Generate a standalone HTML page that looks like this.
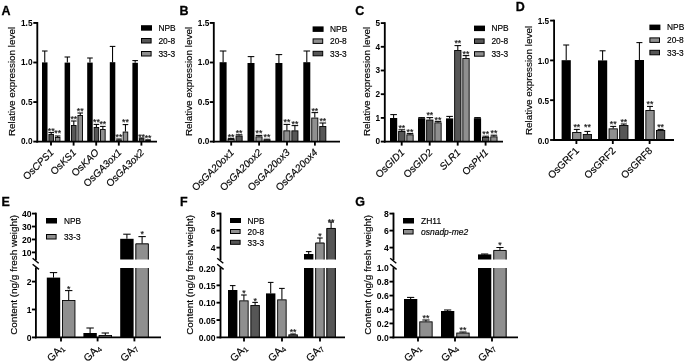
<!DOCTYPE html>
<html><head><meta charset="utf-8"><title>Figure</title>
<style>html,body{margin:0;padding:0;background:#fff}svg{display:block;filter:blur(0.35px)}text{font-family:"Liberation Sans",Arial,sans-serif}text.n{stroke:#000;stroke-width:0.16px}</style></head><body>
<svg width="685" height="362" viewBox="0 0 685 362">
<rect width="685" height="362" fill="#fff"/>
<text transform="translate(1.60 15.00) scale(0.97 1.0)" font-size="12.9" text-anchor="start" font-weight="bold" font-style="normal" fill="#000" stroke="#000" stroke-width="0.3">A</text>
<text class="n" transform="translate(15.30 81.50) rotate(-90)" font-size="9.9" text-anchor="middle" font-weight="normal" font-style="normal" fill="#000">Relative expression level</text>
<line x1="37.30" y1="22.03" x2="37.30" y2="142.52" stroke="#000" stroke-width="1.85"/>
<line x1="33.30" y1="141.60" x2="37.30" y2="141.60" stroke="#000" stroke-width="1.85"/>
<text transform="translate(32.50 144.30) scale(0.96 1.06)" font-size="8.6" text-anchor="end" font-weight="bold" font-style="normal" fill="#000">0.0</text>
<line x1="33.30" y1="102.05" x2="37.30" y2="102.05" stroke="#000" stroke-width="1.85"/>
<text transform="translate(32.50 104.75) scale(0.96 1.06)" font-size="8.6" text-anchor="end" font-weight="bold" font-style="normal" fill="#000">0.5</text>
<line x1="33.30" y1="62.50" x2="37.30" y2="62.50" stroke="#000" stroke-width="1.85"/>
<text transform="translate(32.50 65.20) scale(0.96 1.06)" font-size="8.6" text-anchor="end" font-weight="bold" font-style="normal" fill="#000">1.0</text>
<line x1="33.30" y1="22.95" x2="37.30" y2="22.95" stroke="#000" stroke-width="1.85"/>
<text transform="translate(32.50 25.65) scale(0.96 1.06)" font-size="8.6" text-anchor="end" font-weight="bold" font-style="normal" fill="#000">1.5</text>
<rect x="42.00" y="62.40" width="5.50" height="79.20" fill="#000"/>
<line x1="44.75" y1="51.00" x2="44.75" y2="62.40" stroke="#000" stroke-width="1.05"/>
<line x1="41.95" y1="51.00" x2="47.55" y2="51.00" stroke="#000" stroke-width="1.05"/>
<rect x="48.90" y="134.45" width="4.60" height="7.15" fill="#565656" stroke="#000" stroke-width="0.9"/>
<line x1="51.20" y1="132.60" x2="51.20" y2="134.00" stroke="#000" stroke-width="1.05"/>
<line x1="48.40" y1="132.60" x2="54.00" y2="132.60" stroke="#000" stroke-width="1.05"/>
<text class="n" x="51.20" y="134.46" font-size="8.7" text-anchor="middle" font-weight="normal" font-style="normal" fill="#222">**</text>
<rect x="55.35" y="137.45" width="4.60" height="4.15" fill="#8f8f8f" stroke="#000" stroke-width="0.9"/>
<line x1="57.65" y1="136.00" x2="57.65" y2="137.00" stroke="#000" stroke-width="1.05"/>
<line x1="54.85" y1="136.00" x2="60.45" y2="136.00" stroke="#000" stroke-width="1.05"/>
<text class="n" x="57.65" y="136.31" font-size="8.7" text-anchor="middle" font-weight="normal" font-style="normal" fill="#222">**</text>
<rect x="64.60" y="62.60" width="5.50" height="79.00" fill="#000"/>
<line x1="67.35" y1="57.00" x2="67.35" y2="62.60" stroke="#000" stroke-width="1.05"/>
<line x1="64.55" y1="57.00" x2="70.15" y2="57.00" stroke="#000" stroke-width="1.05"/>
<rect x="71.50" y="125.45" width="4.60" height="16.15" fill="#565656" stroke="#000" stroke-width="0.9"/>
<line x1="73.80" y1="121.00" x2="73.80" y2="125.00" stroke="#000" stroke-width="1.05"/>
<line x1="71.00" y1="121.00" x2="76.60" y2="121.00" stroke="#000" stroke-width="1.05"/>
<text class="n" x="73.80" y="122.46" font-size="8.7" text-anchor="middle" font-weight="normal" font-style="normal" fill="#222">**</text>
<rect x="77.95" y="115.45" width="4.60" height="26.15" fill="#8f8f8f" stroke="#000" stroke-width="0.9"/>
<line x1="80.25" y1="113.00" x2="80.25" y2="115.00" stroke="#000" stroke-width="1.05"/>
<line x1="77.45" y1="113.00" x2="83.05" y2="113.00" stroke="#000" stroke-width="1.05"/>
<text class="n" x="80.25" y="114.06" font-size="8.7" text-anchor="middle" font-weight="normal" font-style="normal" fill="#222">**</text>
<rect x="87.20" y="62.60" width="5.50" height="79.00" fill="#000"/>
<line x1="89.95" y1="58.00" x2="89.95" y2="62.60" stroke="#000" stroke-width="1.05"/>
<line x1="87.15" y1="58.00" x2="92.75" y2="58.00" stroke="#000" stroke-width="1.05"/>
<rect x="94.10" y="127.45" width="4.60" height="14.15" fill="#565656" stroke="#000" stroke-width="0.9"/>
<line x1="96.40" y1="124.40" x2="96.40" y2="127.00" stroke="#000" stroke-width="1.05"/>
<line x1="93.60" y1="124.40" x2="99.20" y2="124.40" stroke="#000" stroke-width="1.05"/>
<text class="n" x="96.40" y="125.46" font-size="8.7" text-anchor="middle" font-weight="normal" font-style="normal" fill="#222">**</text>
<rect x="100.55" y="129.45" width="4.60" height="12.15" fill="#8f8f8f" stroke="#000" stroke-width="0.9"/>
<line x1="102.85" y1="126.40" x2="102.85" y2="129.00" stroke="#000" stroke-width="1.05"/>
<line x1="100.05" y1="126.40" x2="105.65" y2="126.40" stroke="#000" stroke-width="1.05"/>
<text class="n" x="102.85" y="127.06" font-size="8.7" text-anchor="middle" font-weight="normal" font-style="normal" fill="#222">**</text>
<rect x="109.80" y="62.20" width="5.50" height="79.40" fill="#000"/>
<line x1="112.55" y1="46.40" x2="112.55" y2="62.20" stroke="#000" stroke-width="1.05"/>
<line x1="109.75" y1="46.40" x2="115.35" y2="46.40" stroke="#000" stroke-width="1.05"/>
<rect x="116.70" y="140.05" width="4.60" height="1.55" fill="#565656" stroke="#000" stroke-width="0.9"/>
<line x1="119.00" y1="139.00" x2="119.00" y2="139.60" stroke="#000" stroke-width="1.05"/>
<line x1="116.20" y1="139.00" x2="121.80" y2="139.00" stroke="#000" stroke-width="1.05"/>
<text class="n" x="119.00" y="140.46" font-size="8.7" text-anchor="middle" font-weight="normal" font-style="normal" fill="#222">**</text>
<rect x="123.15" y="132.05" width="4.60" height="9.55" fill="#8f8f8f" stroke="#000" stroke-width="0.9"/>
<line x1="125.45" y1="124.60" x2="125.45" y2="131.60" stroke="#000" stroke-width="1.05"/>
<line x1="122.65" y1="124.60" x2="128.25" y2="124.60" stroke="#000" stroke-width="1.05"/>
<text class="n" x="125.45" y="125.46" font-size="8.7" text-anchor="middle" font-weight="normal" font-style="normal" fill="#222">**</text>
<rect x="132.40" y="62.80" width="5.50" height="78.80" fill="#000"/>
<line x1="135.15" y1="60.60" x2="135.15" y2="62.80" stroke="#000" stroke-width="1.05"/>
<line x1="132.35" y1="60.60" x2="137.95" y2="60.60" stroke="#000" stroke-width="1.05"/>
<rect x="139.30" y="138.85" width="4.60" height="2.75" fill="#565656" stroke="#000" stroke-width="0.9"/>
<line x1="141.60" y1="138.00" x2="141.60" y2="138.40" stroke="#000" stroke-width="1.05"/>
<line x1="138.80" y1="138.00" x2="144.40" y2="138.00" stroke="#000" stroke-width="1.05"/>
<text class="n" x="141.60" y="139.66" font-size="8.7" text-anchor="middle" font-weight="normal" font-style="normal" fill="#222">**</text>
<rect x="145.75" y="140.45" width="4.60" height="1.15" fill="#8f8f8f" stroke="#000" stroke-width="0.9"/>
<line x1="145.25" y1="139.80" x2="150.85" y2="139.80" stroke="#000" stroke-width="1.05"/>
<text class="n" x="148.05" y="140.86" font-size="8.7" text-anchor="middle" font-weight="normal" font-style="normal" fill="#222">**</text>
<line x1="36.38" y1="141.60" x2="157.00" y2="141.60" stroke="#000" stroke-width="1.85"/>
<line x1="51.00" y1="141.60" x2="51.00" y2="145.60" stroke="#000" stroke-width="1.85"/>
<line x1="73.60" y1="141.60" x2="73.60" y2="145.60" stroke="#000" stroke-width="1.85"/>
<line x1="96.20" y1="141.60" x2="96.20" y2="145.60" stroke="#000" stroke-width="1.85"/>
<line x1="118.80" y1="141.60" x2="118.80" y2="145.60" stroke="#000" stroke-width="1.85"/>
<line x1="141.40" y1="141.60" x2="141.40" y2="145.60" stroke="#000" stroke-width="1.85"/>
<text class="n" transform="translate(54.40 153.00) rotate(-45)" font-size="10.0" text-anchor="end" font-weight="normal" font-style="normal" fill="#000"><tspan font-style="normal">Os</tspan><tspan font-style="italic">CPS1</tspan></text>
<text class="n" transform="translate(77.00 153.00) rotate(-45)" font-size="10.0" text-anchor="end" font-weight="normal" font-style="normal" fill="#000"><tspan font-style="normal">Os</tspan><tspan font-style="italic">KS1</tspan></text>
<text class="n" transform="translate(99.60 153.00) rotate(-45)" font-size="10.0" text-anchor="end" font-weight="normal" font-style="normal" fill="#000"><tspan font-style="normal">Os</tspan><tspan font-style="italic">KAO</tspan></text>
<text class="n" transform="translate(122.20 153.00) rotate(-45)" font-size="10.0" text-anchor="end" font-weight="normal" font-style="normal" fill="#000"><tspan font-style="normal">Os</tspan><tspan font-style="italic">GA3ox1</tspan></text>
<text class="n" transform="translate(144.80 153.00) rotate(-45)" font-size="10.0" text-anchor="end" font-weight="normal" font-style="normal" fill="#000"><tspan font-style="normal">Os</tspan><tspan font-style="italic">GA3ox2</tspan></text>
<rect x="141.00" y="25.20" width="11.00" height="5.50" fill="#000"/>
<text class="n" x="158.40" y="30.95" font-size="8.4" text-anchor="start" font-weight="normal" font-style="normal" fill="#000">NPB</text>
<rect x="141.50" y="38.50" width="9.60" height="4.50" fill="#565656" stroke="#000" stroke-width="1.0"/>
<text class="n" x="158.40" y="43.95" font-size="8.4" text-anchor="start" font-weight="normal" font-style="normal" fill="#000">20-8</text>
<rect x="141.50" y="51.50" width="9.60" height="4.50" fill="#8f8f8f" stroke="#000" stroke-width="1.0"/>
<text class="n" x="158.40" y="56.95" font-size="8.4" text-anchor="start" font-weight="normal" font-style="normal" fill="#000">33-3</text>
<text transform="translate(179.40 15.00) scale(0.97 1.0)" font-size="12.9" text-anchor="start" font-weight="bold" font-style="normal" fill="#000" stroke="#000" stroke-width="0.3">B</text>
<text class="n" transform="translate(191.50 81.50) rotate(-90)" font-size="9.9" text-anchor="middle" font-weight="normal" font-style="normal" fill="#000">Relative expression level</text>
<line x1="213.80" y1="22.03" x2="213.80" y2="142.52" stroke="#000" stroke-width="1.85"/>
<line x1="209.80" y1="141.60" x2="213.80" y2="141.60" stroke="#000" stroke-width="1.85"/>
<text transform="translate(209.30 144.30) scale(0.96 1.06)" font-size="8.6" text-anchor="end" font-weight="bold" font-style="normal" fill="#000">0.0</text>
<line x1="209.80" y1="102.05" x2="213.80" y2="102.05" stroke="#000" stroke-width="1.85"/>
<text transform="translate(209.30 104.75) scale(0.96 1.06)" font-size="8.6" text-anchor="end" font-weight="bold" font-style="normal" fill="#000">0.5</text>
<line x1="209.80" y1="62.50" x2="213.80" y2="62.50" stroke="#000" stroke-width="1.85"/>
<text transform="translate(209.30 65.20) scale(0.96 1.06)" font-size="8.6" text-anchor="end" font-weight="bold" font-style="normal" fill="#000">1.0</text>
<line x1="209.80" y1="22.95" x2="213.80" y2="22.95" stroke="#000" stroke-width="1.85"/>
<text transform="translate(209.30 25.65) scale(0.96 1.06)" font-size="8.6" text-anchor="end" font-weight="bold" font-style="normal" fill="#000">1.5</text>
<rect x="219.60" y="62.20" width="7.00" height="79.40" fill="#000"/>
<line x1="223.10" y1="51.00" x2="223.10" y2="62.20" stroke="#000" stroke-width="1.05"/>
<line x1="219.80" y1="51.00" x2="226.40" y2="51.00" stroke="#000" stroke-width="1.05"/>
<rect x="228.05" y="139.45" width="6.10" height="2.15" fill="#8f8f8f" stroke="#000" stroke-width="0.9"/>
<line x1="231.10" y1="138.40" x2="231.10" y2="139.00" stroke="#000" stroke-width="1.05"/>
<line x1="227.80" y1="138.40" x2="234.40" y2="138.40" stroke="#000" stroke-width="1.05"/>
<text class="n" x="231.10" y="140.06" font-size="8.7" text-anchor="middle" font-weight="normal" font-style="normal" fill="#222">**</text>
<rect x="236.05" y="136.05" width="6.10" height="5.55" fill="#565656" stroke="#000" stroke-width="0.9"/>
<line x1="239.10" y1="134.80" x2="239.10" y2="135.60" stroke="#000" stroke-width="1.05"/>
<line x1="235.80" y1="134.80" x2="242.40" y2="134.80" stroke="#000" stroke-width="1.05"/>
<text class="n" x="239.10" y="136.31" font-size="8.7" text-anchor="middle" font-weight="normal" font-style="normal" fill="#222">**</text>
<rect x="247.50" y="63.00" width="7.00" height="78.60" fill="#000"/>
<line x1="251.00" y1="56.60" x2="251.00" y2="63.00" stroke="#000" stroke-width="1.05"/>
<line x1="247.70" y1="56.60" x2="254.30" y2="56.60" stroke="#000" stroke-width="1.05"/>
<rect x="255.95" y="136.85" width="6.10" height="4.75" fill="#8f8f8f" stroke="#000" stroke-width="0.9"/>
<line x1="259.00" y1="135.40" x2="259.00" y2="136.40" stroke="#000" stroke-width="1.05"/>
<line x1="255.70" y1="135.40" x2="262.30" y2="135.40" stroke="#000" stroke-width="1.05"/>
<text class="n" x="259.00" y="136.46" font-size="8.7" text-anchor="middle" font-weight="normal" font-style="normal" fill="#222">**</text>
<rect x="263.95" y="140.05" width="6.10" height="1.55" fill="#565656" stroke="#000" stroke-width="0.9"/>
<line x1="267.00" y1="139.20" x2="267.00" y2="139.60" stroke="#000" stroke-width="1.05"/>
<line x1="263.70" y1="139.20" x2="270.30" y2="139.20" stroke="#000" stroke-width="1.05"/>
<text class="n" x="267.00" y="140.46" font-size="8.7" text-anchor="middle" font-weight="normal" font-style="normal" fill="#222">**</text>
<rect x="275.40" y="63.00" width="7.00" height="78.60" fill="#000"/>
<line x1="278.90" y1="54.60" x2="278.90" y2="63.00" stroke="#000" stroke-width="1.05"/>
<line x1="275.60" y1="54.60" x2="282.20" y2="54.60" stroke="#000" stroke-width="1.05"/>
<rect x="283.85" y="130.85" width="6.10" height="10.75" fill="#8f8f8f" stroke="#000" stroke-width="0.9"/>
<line x1="286.90" y1="124.40" x2="286.90" y2="130.40" stroke="#000" stroke-width="1.05"/>
<line x1="283.60" y1="124.40" x2="290.20" y2="124.40" stroke="#000" stroke-width="1.05"/>
<text class="n" x="286.90" y="125.46" font-size="8.7" text-anchor="middle" font-weight="normal" font-style="normal" fill="#222">**</text>
<rect x="291.85" y="130.85" width="6.10" height="10.75" fill="#565656" stroke="#000" stroke-width="0.9"/>
<line x1="294.90" y1="125.60" x2="294.90" y2="130.40" stroke="#000" stroke-width="1.05"/>
<line x1="291.60" y1="125.60" x2="298.20" y2="125.60" stroke="#000" stroke-width="1.05"/>
<text class="n" x="294.90" y="126.86" font-size="8.7" text-anchor="middle" font-weight="normal" font-style="normal" fill="#222">**</text>
<rect x="303.30" y="62.20" width="7.00" height="79.40" fill="#000"/>
<line x1="306.80" y1="51.00" x2="306.80" y2="62.20" stroke="#000" stroke-width="1.05"/>
<line x1="303.50" y1="51.00" x2="310.10" y2="51.00" stroke="#000" stroke-width="1.05"/>
<rect x="311.75" y="118.05" width="6.10" height="23.55" fill="#8f8f8f" stroke="#000" stroke-width="0.9"/>
<line x1="314.80" y1="112.60" x2="314.80" y2="117.60" stroke="#000" stroke-width="1.05"/>
<line x1="311.50" y1="112.60" x2="318.10" y2="112.60" stroke="#000" stroke-width="1.05"/>
<text class="n" x="314.80" y="113.86" font-size="8.7" text-anchor="middle" font-weight="normal" font-style="normal" fill="#222">**</text>
<rect x="319.75" y="126.45" width="6.10" height="15.15" fill="#565656" stroke="#000" stroke-width="0.9"/>
<line x1="322.80" y1="123.00" x2="322.80" y2="126.00" stroke="#000" stroke-width="1.05"/>
<line x1="319.50" y1="123.00" x2="326.10" y2="123.00" stroke="#000" stroke-width="1.05"/>
<text class="n" x="322.80" y="124.46" font-size="8.7" text-anchor="middle" font-weight="normal" font-style="normal" fill="#222">**</text>
<line x1="212.88" y1="141.60" x2="340.00" y2="141.60" stroke="#000" stroke-width="1.85"/>
<line x1="231.20" y1="141.60" x2="231.20" y2="145.60" stroke="#000" stroke-width="1.85"/>
<line x1="259.10" y1="141.60" x2="259.10" y2="145.60" stroke="#000" stroke-width="1.85"/>
<line x1="287.00" y1="141.60" x2="287.00" y2="145.60" stroke="#000" stroke-width="1.85"/>
<line x1="314.90" y1="141.60" x2="314.90" y2="145.60" stroke="#000" stroke-width="1.85"/>
<text class="n" transform="translate(234.60 153.00) rotate(-45)" font-size="10.0" text-anchor="end" font-weight="normal" font-style="normal" fill="#000"><tspan font-style="normal">Os</tspan><tspan font-style="italic">GA20ox1</tspan></text>
<text class="n" transform="translate(262.50 153.00) rotate(-45)" font-size="10.0" text-anchor="end" font-weight="normal" font-style="normal" fill="#000"><tspan font-style="normal">Os</tspan><tspan font-style="italic">GA20ox2</tspan></text>
<text class="n" transform="translate(290.40 153.00) rotate(-45)" font-size="10.0" text-anchor="end" font-weight="normal" font-style="normal" fill="#000"><tspan font-style="normal">Os</tspan><tspan font-style="italic">GA20ox3</tspan></text>
<text class="n" transform="translate(318.30 153.00) rotate(-45)" font-size="10.0" text-anchor="end" font-weight="normal" font-style="normal" fill="#000"><tspan font-style="normal">Os</tspan><tspan font-style="italic">GA20ox4</tspan></text>
<rect x="312.60" y="26.40" width="11.00" height="5.50" fill="#000"/>
<text class="n" x="330.00" y="32.15" font-size="8.4" text-anchor="start" font-weight="normal" font-style="normal" fill="#000">NPB</text>
<rect x="313.10" y="38.90" width="9.60" height="4.50" fill="#8f8f8f" stroke="#000" stroke-width="1.0"/>
<text class="n" x="330.00" y="44.35" font-size="8.4" text-anchor="start" font-weight="normal" font-style="normal" fill="#000">20-8</text>
<rect x="313.10" y="51.30" width="9.60" height="4.50" fill="#565656" stroke="#000" stroke-width="1.0"/>
<text class="n" x="330.00" y="56.75" font-size="8.4" text-anchor="start" font-weight="normal" font-style="normal" fill="#000">33-3</text>
<text transform="translate(355.30 15.10) scale(0.97 1.0)" font-size="12.9" text-anchor="start" font-weight="bold" font-style="normal" fill="#000" stroke="#000" stroke-width="0.3">C</text>
<text class="n" transform="translate(369.70 81.50) rotate(-90)" font-size="9.9" text-anchor="middle" font-weight="normal" font-style="normal" fill="#000">Relative expression level</text>
<line x1="384.80" y1="22.18" x2="384.80" y2="142.52" stroke="#000" stroke-width="1.85"/>
<line x1="380.80" y1="141.60" x2="384.80" y2="141.60" stroke="#000" stroke-width="1.85"/>
<text transform="translate(380.20 144.30) scale(0.96 1.06)" font-size="8.6" text-anchor="end" font-weight="bold" font-style="normal" fill="#000">0</text>
<line x1="380.80" y1="117.90" x2="384.80" y2="117.90" stroke="#000" stroke-width="1.85"/>
<text transform="translate(380.20 120.60) scale(0.96 1.06)" font-size="8.6" text-anchor="end" font-weight="bold" font-style="normal" fill="#000">1</text>
<line x1="380.80" y1="94.20" x2="384.80" y2="94.20" stroke="#000" stroke-width="1.85"/>
<text transform="translate(380.20 96.90) scale(0.96 1.06)" font-size="8.6" text-anchor="end" font-weight="bold" font-style="normal" fill="#000">2</text>
<line x1="380.80" y1="70.50" x2="384.80" y2="70.50" stroke="#000" stroke-width="1.85"/>
<text transform="translate(380.20 73.20) scale(0.96 1.06)" font-size="8.6" text-anchor="end" font-weight="bold" font-style="normal" fill="#000">3</text>
<line x1="380.80" y1="46.80" x2="384.80" y2="46.80" stroke="#000" stroke-width="1.85"/>
<text transform="translate(380.20 49.50) scale(0.96 1.06)" font-size="8.6" text-anchor="end" font-weight="bold" font-style="normal" fill="#000">4</text>
<line x1="380.80" y1="23.10" x2="384.80" y2="23.10" stroke="#000" stroke-width="1.85"/>
<text transform="translate(380.20 25.80) scale(0.96 1.06)" font-size="8.6" text-anchor="end" font-weight="bold" font-style="normal" fill="#000">5</text>
<rect x="390.00" y="118.00" width="7.20" height="23.60" fill="#000"/>
<line x1="393.60" y1="114.60" x2="393.60" y2="118.00" stroke="#000" stroke-width="1.05"/>
<line x1="390.30" y1="114.60" x2="396.90" y2="114.60" stroke="#000" stroke-width="1.05"/>
<rect x="398.65" y="131.45" width="6.30" height="10.15" fill="#565656" stroke="#000" stroke-width="0.9"/>
<line x1="401.80" y1="129.80" x2="401.80" y2="131.00" stroke="#000" stroke-width="1.05"/>
<line x1="398.50" y1="129.80" x2="405.10" y2="129.80" stroke="#000" stroke-width="1.05"/>
<text class="n" x="401.80" y="130.86" font-size="8.7" text-anchor="middle" font-weight="normal" font-style="normal" fill="#222">**</text>
<rect x="406.85" y="134.85" width="6.30" height="6.75" fill="#8f8f8f" stroke="#000" stroke-width="0.9"/>
<line x1="410.00" y1="133.60" x2="410.00" y2="134.40" stroke="#000" stroke-width="1.05"/>
<line x1="406.70" y1="133.60" x2="413.30" y2="133.60" stroke="#000" stroke-width="1.05"/>
<text class="n" x="410.00" y="134.86" font-size="8.7" text-anchor="middle" font-weight="normal" font-style="normal" fill="#222">**</text>
<rect x="418.00" y="118.20" width="7.20" height="23.40" fill="#000"/>
<line x1="421.60" y1="117.60" x2="421.60" y2="118.20" stroke="#000" stroke-width="1.05"/>
<line x1="418.30" y1="117.60" x2="424.90" y2="117.60" stroke="#000" stroke-width="1.05"/>
<rect x="426.65" y="120.05" width="6.30" height="21.55" fill="#565656" stroke="#000" stroke-width="0.9"/>
<line x1="429.80" y1="117.60" x2="429.80" y2="119.60" stroke="#000" stroke-width="1.05"/>
<line x1="426.50" y1="117.60" x2="433.10" y2="117.60" stroke="#000" stroke-width="1.05"/>
<text class="n" x="429.80" y="118.46" font-size="8.7" text-anchor="middle" font-weight="normal" font-style="normal" fill="#222">**</text>
<rect x="434.85" y="122.85" width="6.30" height="18.75" fill="#8f8f8f" stroke="#000" stroke-width="0.9"/>
<line x1="438.00" y1="121.40" x2="438.00" y2="122.40" stroke="#000" stroke-width="1.05"/>
<line x1="434.70" y1="121.40" x2="441.30" y2="121.40" stroke="#000" stroke-width="1.05"/>
<text class="n" x="438.00" y="122.86" font-size="8.7" text-anchor="middle" font-weight="normal" font-style="normal" fill="#222">**</text>
<rect x="446.00" y="118.40" width="7.20" height="23.20" fill="#000"/>
<line x1="449.60" y1="116.40" x2="449.60" y2="118.40" stroke="#000" stroke-width="1.05"/>
<line x1="446.30" y1="116.40" x2="452.90" y2="116.40" stroke="#000" stroke-width="1.05"/>
<rect x="454.65" y="50.45" width="6.30" height="91.15" fill="#565656" stroke="#000" stroke-width="0.9"/>
<line x1="457.80" y1="45.60" x2="457.80" y2="50.00" stroke="#000" stroke-width="1.05"/>
<line x1="454.50" y1="45.60" x2="461.10" y2="45.60" stroke="#000" stroke-width="1.05"/>
<text class="n" x="457.80" y="46.46" font-size="8.7" text-anchor="middle" font-weight="normal" font-style="normal" fill="#222">**</text>
<rect x="462.85" y="58.45" width="6.30" height="83.15" fill="#8f8f8f" stroke="#000" stroke-width="0.9"/>
<line x1="466.00" y1="55.60" x2="466.00" y2="58.00" stroke="#000" stroke-width="1.05"/>
<line x1="462.70" y1="55.60" x2="469.30" y2="55.60" stroke="#000" stroke-width="1.05"/>
<text class="n" x="466.00" y="57.46" font-size="8.7" text-anchor="middle" font-weight="normal" font-style="normal" fill="#222">**</text>
<rect x="473.90" y="118.20" width="7.20" height="23.40" fill="#000"/>
<line x1="477.50" y1="117.60" x2="477.50" y2="118.20" stroke="#000" stroke-width="1.05"/>
<line x1="474.20" y1="117.60" x2="480.80" y2="117.60" stroke="#000" stroke-width="1.05"/>
<rect x="482.55" y="137.45" width="6.30" height="4.15" fill="#565656" stroke="#000" stroke-width="0.9"/>
<line x1="485.70" y1="136.20" x2="485.70" y2="137.00" stroke="#000" stroke-width="1.05"/>
<line x1="482.40" y1="136.20" x2="489.00" y2="136.20" stroke="#000" stroke-width="1.05"/>
<text class="n" x="485.70" y="137.46" font-size="8.7" text-anchor="middle" font-weight="normal" font-style="normal" fill="#222">**</text>
<rect x="490.75" y="136.85" width="6.30" height="4.75" fill="#8f8f8f" stroke="#000" stroke-width="0.9"/>
<line x1="493.90" y1="135.20" x2="493.90" y2="136.40" stroke="#000" stroke-width="1.05"/>
<line x1="490.60" y1="135.20" x2="497.20" y2="135.20" stroke="#000" stroke-width="1.05"/>
<text class="n" x="493.90" y="136.46" font-size="8.7" text-anchor="middle" font-weight="normal" font-style="normal" fill="#222">**</text>
<line x1="383.88" y1="141.60" x2="503.00" y2="141.60" stroke="#000" stroke-width="1.85"/>
<line x1="401.70" y1="141.60" x2="401.70" y2="145.60" stroke="#000" stroke-width="1.85"/>
<line x1="429.70" y1="141.60" x2="429.70" y2="145.60" stroke="#000" stroke-width="1.85"/>
<line x1="457.70" y1="141.60" x2="457.70" y2="145.60" stroke="#000" stroke-width="1.85"/>
<line x1="485.60" y1="141.60" x2="485.60" y2="145.60" stroke="#000" stroke-width="1.85"/>
<text class="n" transform="translate(405.10 153.00) rotate(-45)" font-size="10.0" text-anchor="end" font-weight="normal" font-style="normal" fill="#000"><tspan font-style="normal">Os</tspan><tspan font-style="italic">GID1</tspan></text>
<text class="n" transform="translate(433.10 153.00) rotate(-45)" font-size="10.0" text-anchor="end" font-weight="normal" font-style="normal" fill="#000"><tspan font-style="normal">Os</tspan><tspan font-style="italic">GID2</tspan></text>
<text class="n" transform="translate(461.10 153.00) rotate(-45)" font-size="10.0" text-anchor="end" font-weight="normal" font-style="normal" fill="#000"><tspan font-style="italic">SLR1</tspan></text>
<text class="n" transform="translate(489.00 153.00) rotate(-45)" font-size="10.0" text-anchor="end" font-weight="normal" font-style="normal" fill="#000"><tspan font-style="normal">Os</tspan><tspan font-style="italic">PH1</tspan></text>
<rect x="474.00" y="25.60" width="11.00" height="5.50" fill="#000"/>
<text class="n" x="491.40" y="31.35" font-size="8.4" text-anchor="start" font-weight="normal" font-style="normal" fill="#000">NPB</text>
<rect x="474.50" y="38.90" width="9.60" height="4.50" fill="#565656" stroke="#000" stroke-width="1.0"/>
<text class="n" x="491.40" y="44.35" font-size="8.4" text-anchor="start" font-weight="normal" font-style="normal" fill="#000">20-8</text>
<rect x="474.50" y="51.70" width="9.60" height="4.50" fill="#8f8f8f" stroke="#000" stroke-width="1.0"/>
<text class="n" x="491.40" y="57.15" font-size="8.4" text-anchor="start" font-weight="normal" font-style="normal" fill="#000">33-3</text>
<text transform="translate(515.80 10.80) scale(0.97 1.0)" font-size="12.9" text-anchor="start" font-weight="bold" font-style="normal" fill="#000" stroke="#000" stroke-width="0.3">D</text>
<text class="n" transform="translate(531.50 80.50) rotate(-90)" font-size="9.9" text-anchor="middle" font-weight="normal" font-style="normal" fill="#000">Relative expression level</text>
<line x1="554.10" y1="19.68" x2="554.10" y2="140.92" stroke="#000" stroke-width="1.85"/>
<line x1="550.10" y1="140.00" x2="554.10" y2="140.00" stroke="#000" stroke-width="1.85"/>
<text transform="translate(549.10 143.50) scale(0.96 1.06)" font-size="8.6" text-anchor="end" font-weight="bold" font-style="normal" fill="#000">0.0</text>
<line x1="550.10" y1="100.20" x2="554.10" y2="100.20" stroke="#000" stroke-width="1.85"/>
<text transform="translate(549.10 103.70) scale(0.96 1.06)" font-size="8.6" text-anchor="end" font-weight="bold" font-style="normal" fill="#000">0.5</text>
<line x1="550.10" y1="60.40" x2="554.10" y2="60.40" stroke="#000" stroke-width="1.85"/>
<text transform="translate(549.10 63.90) scale(0.96 1.06)" font-size="8.6" text-anchor="end" font-weight="bold" font-style="normal" fill="#000">1.0</text>
<line x1="550.10" y1="20.60" x2="554.10" y2="20.60" stroke="#000" stroke-width="1.85"/>
<text transform="translate(549.10 24.10) scale(0.96 1.06)" font-size="8.6" text-anchor="end" font-weight="bold" font-style="normal" fill="#000">1.5</text>
<rect x="561.60" y="60.20" width="9.20" height="79.80" fill="#000"/>
<line x1="566.20" y1="45.00" x2="566.20" y2="60.20" stroke="#000" stroke-width="1.05"/>
<line x1="563.20" y1="45.00" x2="569.20" y2="45.00" stroke="#000" stroke-width="1.05"/>
<rect x="572.65" y="132.45" width="8.30" height="7.55" fill="#8f8f8f" stroke="#000" stroke-width="0.9"/>
<line x1="576.80" y1="129.40" x2="576.80" y2="132.00" stroke="#000" stroke-width="1.05"/>
<line x1="573.80" y1="129.40" x2="579.80" y2="129.40" stroke="#000" stroke-width="1.05"/>
<text class="n" x="576.80" y="130.26" font-size="8.7" text-anchor="middle" font-weight="normal" font-style="normal" fill="#222">**</text>
<rect x="583.25" y="134.45" width="8.30" height="5.55" fill="#565656" stroke="#000" stroke-width="0.9"/>
<line x1="587.40" y1="131.40" x2="587.40" y2="134.00" stroke="#000" stroke-width="1.05"/>
<line x1="584.40" y1="131.40" x2="590.40" y2="131.40" stroke="#000" stroke-width="1.05"/>
<text class="n" x="587.40" y="130.26" font-size="8.7" text-anchor="middle" font-weight="normal" font-style="normal" fill="#222">**</text>
<rect x="598.00" y="60.40" width="9.20" height="79.60" fill="#000"/>
<line x1="602.60" y1="50.80" x2="602.60" y2="60.40" stroke="#000" stroke-width="1.05"/>
<line x1="599.60" y1="50.80" x2="605.60" y2="50.80" stroke="#000" stroke-width="1.05"/>
<rect x="609.05" y="128.85" width="8.30" height="11.15" fill="#8f8f8f" stroke="#000" stroke-width="0.9"/>
<line x1="613.20" y1="126.40" x2="613.20" y2="128.40" stroke="#000" stroke-width="1.05"/>
<line x1="610.20" y1="126.40" x2="616.20" y2="126.40" stroke="#000" stroke-width="1.05"/>
<text class="n" x="613.20" y="126.86" font-size="8.7" text-anchor="middle" font-weight="normal" font-style="normal" fill="#222">**</text>
<rect x="619.65" y="125.45" width="8.30" height="14.55" fill="#565656" stroke="#000" stroke-width="0.9"/>
<line x1="623.80" y1="124.00" x2="623.80" y2="125.00" stroke="#000" stroke-width="1.05"/>
<line x1="620.80" y1="124.00" x2="626.80" y2="124.00" stroke="#000" stroke-width="1.05"/>
<text class="n" x="623.80" y="124.86" font-size="8.7" text-anchor="middle" font-weight="normal" font-style="normal" fill="#222">**</text>
<rect x="634.80" y="60.00" width="9.20" height="80.00" fill="#000"/>
<line x1="639.40" y1="42.60" x2="639.40" y2="60.00" stroke="#000" stroke-width="1.05"/>
<line x1="636.40" y1="42.60" x2="642.40" y2="42.60" stroke="#000" stroke-width="1.05"/>
<rect x="645.85" y="110.45" width="8.30" height="29.55" fill="#8f8f8f" stroke="#000" stroke-width="0.9"/>
<line x1="650.00" y1="106.40" x2="650.00" y2="110.00" stroke="#000" stroke-width="1.05"/>
<line x1="647.00" y1="106.40" x2="653.00" y2="106.40" stroke="#000" stroke-width="1.05"/>
<text class="n" x="650.00" y="107.46" font-size="8.7" text-anchor="middle" font-weight="normal" font-style="normal" fill="#222">**</text>
<rect x="656.45" y="130.45" width="8.30" height="9.55" fill="#565656" stroke="#000" stroke-width="0.9"/>
<line x1="660.60" y1="129.40" x2="660.60" y2="130.00" stroke="#000" stroke-width="1.05"/>
<line x1="657.60" y1="129.40" x2="663.60" y2="129.40" stroke="#000" stroke-width="1.05"/>
<text class="n" x="660.60" y="129.86" font-size="8.7" text-anchor="middle" font-weight="normal" font-style="normal" fill="#222">**</text>
<line x1="553.18" y1="140.00" x2="674.00" y2="140.00" stroke="#000" stroke-width="1.85"/>
<line x1="576.40" y1="140.00" x2="576.40" y2="144.00" stroke="#000" stroke-width="1.85"/>
<line x1="612.80" y1="140.00" x2="612.80" y2="144.00" stroke="#000" stroke-width="1.85"/>
<line x1="649.60" y1="140.00" x2="649.60" y2="144.00" stroke="#000" stroke-width="1.85"/>
<text class="n" transform="translate(579.80 151.40) rotate(-45)" font-size="10.0" text-anchor="end" font-weight="normal" font-style="normal" fill="#000"><tspan font-style="normal">OsGRF1</tspan></text>
<text class="n" transform="translate(616.20 151.40) rotate(-45)" font-size="10.0" text-anchor="end" font-weight="normal" font-style="normal" fill="#000"><tspan font-style="normal">OsGRF2</tspan></text>
<text class="n" transform="translate(653.00 151.40) rotate(-45)" font-size="10.0" text-anchor="end" font-weight="normal" font-style="normal" fill="#000"><tspan font-style="normal">OsGRF8</tspan></text>
<rect x="649.40" y="24.60" width="11.00" height="5.50" fill="#000"/>
<text class="n" x="667.00" y="30.35" font-size="8.4" text-anchor="start" font-weight="normal" font-style="normal" fill="#000">NPB</text>
<rect x="649.90" y="37.90" width="9.60" height="4.50" fill="#8f8f8f" stroke="#000" stroke-width="1.0"/>
<text class="n" x="667.00" y="43.35" font-size="8.4" text-anchor="start" font-weight="normal" font-style="normal" fill="#000">20-8</text>
<rect x="649.90" y="50.30" width="9.60" height="4.50" fill="#565656" stroke="#000" stroke-width="1.0"/>
<text class="n" x="667.00" y="55.75" font-size="8.4" text-anchor="start" font-weight="normal" font-style="normal" fill="#000">33-3</text>
<text transform="translate(1.50 205.80) scale(0.97 1.0)" font-size="12.9" text-anchor="start" font-weight="bold" font-style="normal" fill="#000" stroke="#000" stroke-width="0.3">E</text>
<text class="n" transform="translate(16.70 274.90) rotate(-90) scale(1.1 1.0)" font-size="9.05" text-anchor="middle" font-weight="normal" font-style="normal" fill="#000">Content (ng/g fresh weight)</text>
<line x1="35.90" y1="212.68" x2="35.90" y2="260.20" stroke="#000" stroke-width="1.85"/>
<line x1="35.90" y1="267.40" x2="35.90" y2="338.32" stroke="#000" stroke-width="1.85"/>
<line x1="32.60" y1="258.30" x2="38.70" y2="263.30" stroke="#000" stroke-width="1.4"/>
<line x1="32.60" y1="264.30" x2="39.00" y2="269.40" stroke="#000" stroke-width="1.4"/>
<line x1="31.90" y1="252.39" x2="35.90" y2="252.39" stroke="#000" stroke-width="1.85"/>
<text transform="translate(31.60 256.09) scale(1.0 1.15)" font-size="8.6" text-anchor="end" font-weight="bold" font-style="normal" fill="#000">10</text>
<line x1="31.90" y1="239.46" x2="35.90" y2="239.46" stroke="#000" stroke-width="1.85"/>
<text transform="translate(31.60 243.16) scale(1.0 1.15)" font-size="8.6" text-anchor="end" font-weight="bold" font-style="normal" fill="#000">20</text>
<line x1="31.90" y1="226.53" x2="35.90" y2="226.53" stroke="#000" stroke-width="1.85"/>
<text transform="translate(31.60 230.23) scale(1.0 1.15)" font-size="8.6" text-anchor="end" font-weight="bold" font-style="normal" fill="#000">30</text>
<line x1="31.90" y1="213.60" x2="35.90" y2="213.60" stroke="#000" stroke-width="1.85"/>
<text transform="translate(31.60 217.30) scale(1.0 1.15)" font-size="8.6" text-anchor="end" font-weight="bold" font-style="normal" fill="#000">40</text>
<line x1="31.90" y1="337.40" x2="35.90" y2="337.40" stroke="#000" stroke-width="1.85"/>
<text transform="translate(31.60 341.10) scale(1.0 1.15)" font-size="8.6" text-anchor="end" font-weight="bold" font-style="normal" fill="#000">0</text>
<line x1="31.90" y1="309.50" x2="35.90" y2="309.50" stroke="#000" stroke-width="1.85"/>
<text transform="translate(31.60 313.20) scale(1.0 1.15)" font-size="8.6" text-anchor="end" font-weight="bold" font-style="normal" fill="#000">1</text>
<line x1="31.90" y1="281.60" x2="35.90" y2="281.60" stroke="#000" stroke-width="1.85"/>
<text transform="translate(31.60 285.30) scale(1.0 1.15)" font-size="8.6" text-anchor="end" font-weight="bold" font-style="normal" fill="#000">2</text>
<rect x="46.80" y="277.60" width="13.40" height="59.80" fill="#000"/>
<line x1="53.50" y1="272.60" x2="53.50" y2="277.60" stroke="#000" stroke-width="1.05"/>
<line x1="49.80" y1="272.60" x2="57.20" y2="272.60" stroke="#000" stroke-width="1.05"/>
<rect x="62.45" y="300.45" width="12.50" height="36.95" fill="#8f8f8f" stroke="#000" stroke-width="0.9"/>
<line x1="68.70" y1="290.60" x2="68.70" y2="300.00" stroke="#000" stroke-width="1.05"/>
<line x1="65.00" y1="290.60" x2="72.40" y2="290.60" stroke="#000" stroke-width="1.05"/>
<text class="n" x="68.70" y="291.86" font-size="8.7" text-anchor="middle" font-weight="normal" font-style="normal" fill="#222">*</text>
<rect x="83.40" y="333.00" width="13.40" height="4.40" fill="#000"/>
<line x1="90.10" y1="328.00" x2="90.10" y2="333.00" stroke="#000" stroke-width="1.05"/>
<line x1="86.40" y1="328.00" x2="93.80" y2="328.00" stroke="#000" stroke-width="1.05"/>
<rect x="99.05" y="335.45" width="12.50" height="1.95" fill="#8f8f8f" stroke="#000" stroke-width="0.9"/>
<line x1="105.30" y1="333.00" x2="105.30" y2="335.00" stroke="#000" stroke-width="1.05"/>
<line x1="101.60" y1="333.00" x2="109.00" y2="333.00" stroke="#000" stroke-width="1.05"/>
<rect x="120.20" y="238.80" width="13.40" height="20.70" fill="#000"/>
<rect x="120.20" y="268.00" width="13.40" height="69.40" fill="#000"/>
<line x1="126.90" y1="234.20" x2="126.90" y2="238.80" stroke="#000" stroke-width="1.05"/>
<line x1="123.20" y1="234.20" x2="130.60" y2="234.20" stroke="#000" stroke-width="1.05"/>
<rect x="135.40" y="243.40" width="13.40" height="16.10" fill="#8f8f8f"/>
<path d="M135.85 259.50V243.85H148.35V259.50" fill="none" stroke="#000" stroke-width="0.9"/>
<rect x="135.40" y="268.00" width="13.40" height="69.40" fill="#8f8f8f"/>
<path d="M135.85 337.40V268.00M148.35 268.00V337.40" fill="none" stroke="#000" stroke-width="0.9"/>
<line x1="142.10" y1="236.60" x2="142.10" y2="243.40" stroke="#000" stroke-width="1.05"/>
<line x1="138.40" y1="236.60" x2="145.80" y2="236.60" stroke="#000" stroke-width="1.05"/>
<text class="n" x="142.10" y="237.06" font-size="8.7" text-anchor="middle" font-weight="normal" font-style="normal" fill="#222">*</text>
<line x1="34.98" y1="337.40" x2="161.00" y2="337.40" stroke="#000" stroke-width="1.85"/>
<line x1="61.00" y1="337.40" x2="61.00" y2="341.40" stroke="#000" stroke-width="1.85"/>
<line x1="97.60" y1="337.40" x2="97.60" y2="341.40" stroke="#000" stroke-width="1.85"/>
<line x1="134.40" y1="337.40" x2="134.40" y2="341.40" stroke="#000" stroke-width="1.85"/>
<text class="n" transform="translate(64.70 348.70) rotate(-45)" font-size="10.4" text-anchor="end" font-weight="normal" font-style="normal" fill="#000"><tspan font-style="normal">GA</tspan><tspan font-style="normal" font-size="7.28" dy="1.7">1</tspan></text>
<text class="n" transform="translate(101.30 348.70) rotate(-45)" font-size="10.4" text-anchor="end" font-weight="normal" font-style="normal" fill="#000"><tspan font-style="normal">GA</tspan><tspan font-style="normal" font-size="7.28" dy="1.7">4</tspan></text>
<text class="n" transform="translate(138.10 348.70) rotate(-45)" font-size="10.4" text-anchor="end" font-weight="normal" font-style="normal" fill="#000"><tspan font-style="normal">GA</tspan><tspan font-style="normal" font-size="7.28" dy="1.7">7</tspan></text>
<rect x="46.00" y="218.00" width="11.00" height="5.50" fill="#000"/>
<text class="n" transform="translate(64.00 224.05) scale(1.0 1.1)" font-size="8.3" text-anchor="start" font-weight="normal" font-style="normal" fill="#000">NPB</text>
<rect x="46.50" y="234.50" width="9.60" height="4.50" fill="#8f8f8f" stroke="#000" stroke-width="1.0"/>
<text class="n" transform="translate(64.00 240.25) scale(1.0 1.1)" font-size="8.3" text-anchor="start" font-weight="normal" font-style="normal" fill="#000">33-3</text>
<text transform="translate(180.00 205.80) scale(0.97 1.0)" font-size="12.9" text-anchor="start" font-weight="bold" font-style="normal" fill="#000" stroke="#000" stroke-width="0.3">F</text>
<text class="n" transform="translate(193.20 274.90) rotate(-90) scale(1.1 1.0)" font-size="9.05" text-anchor="middle" font-weight="normal" font-style="normal" fill="#000">Content (ng/g fresh weight)</text>
<line x1="220.50" y1="212.68" x2="220.50" y2="260.20" stroke="#000" stroke-width="1.85"/>
<line x1="220.50" y1="267.40" x2="220.50" y2="338.32" stroke="#000" stroke-width="1.85"/>
<line x1="217.20" y1="258.30" x2="223.30" y2="263.30" stroke="#000" stroke-width="1.4"/>
<line x1="217.20" y1="264.30" x2="223.60" y2="269.40" stroke="#000" stroke-width="1.4"/>
<line x1="216.50" y1="247.60" x2="220.50" y2="247.60" stroke="#000" stroke-width="1.85"/>
<text transform="translate(215.50 251.30) scale(1.0 1.15)" font-size="8.6" text-anchor="end" font-weight="bold" font-style="normal" fill="#000">4</text>
<line x1="216.50" y1="230.60" x2="220.50" y2="230.60" stroke="#000" stroke-width="1.85"/>
<text transform="translate(215.50 234.30) scale(1.0 1.15)" font-size="8.6" text-anchor="end" font-weight="bold" font-style="normal" fill="#000">6</text>
<line x1="216.50" y1="213.60" x2="220.50" y2="213.60" stroke="#000" stroke-width="1.85"/>
<text transform="translate(215.50 217.30) scale(1.0 1.15)" font-size="8.6" text-anchor="end" font-weight="bold" font-style="normal" fill="#000">8</text>
<line x1="216.50" y1="337.40" x2="220.50" y2="337.40" stroke="#000" stroke-width="1.85"/>
<text transform="translate(215.50 341.10) scale(1.0 1.15)" font-size="8.6" text-anchor="end" font-weight="bold" font-style="normal" fill="#000">0.00</text>
<line x1="216.50" y1="320.05" x2="220.50" y2="320.05" stroke="#000" stroke-width="1.85"/>
<text transform="translate(215.50 323.75) scale(1.0 1.15)" font-size="8.6" text-anchor="end" font-weight="bold" font-style="normal" fill="#000">0.05</text>
<line x1="216.50" y1="302.70" x2="220.50" y2="302.70" stroke="#000" stroke-width="1.85"/>
<text transform="translate(215.50 306.40) scale(1.0 1.15)" font-size="8.6" text-anchor="end" font-weight="bold" font-style="normal" fill="#000">0.10</text>
<line x1="216.50" y1="285.35" x2="220.50" y2="285.35" stroke="#000" stroke-width="1.85"/>
<text transform="translate(215.50 289.05) scale(1.0 1.15)" font-size="8.6" text-anchor="end" font-weight="bold" font-style="normal" fill="#000">0.15</text>
<text transform="translate(215.50 271.70) scale(1.0 1.15)" font-size="8.6" text-anchor="end" font-weight="bold" font-style="normal" fill="#000">0.20</text>
<rect x="228.00" y="290.00" width="9.40" height="47.40" fill="#000"/>
<line x1="232.70" y1="285.60" x2="232.70" y2="290.00" stroke="#000" stroke-width="1.05"/>
<line x1="229.90" y1="285.60" x2="235.50" y2="285.60" stroke="#000" stroke-width="1.05"/>
<rect x="239.65" y="300.85" width="8.50" height="36.55" fill="#8f8f8f" stroke="#000" stroke-width="0.9"/>
<line x1="243.90" y1="295.00" x2="243.90" y2="300.40" stroke="#000" stroke-width="1.05"/>
<line x1="241.10" y1="295.00" x2="246.70" y2="295.00" stroke="#000" stroke-width="1.05"/>
<text class="n" x="243.90" y="296.46" font-size="8.7" text-anchor="middle" font-weight="normal" font-style="normal" fill="#222">*</text>
<rect x="250.85" y="305.45" width="8.50" height="31.95" fill="#565656" stroke="#000" stroke-width="0.9"/>
<line x1="255.10" y1="302.40" x2="255.10" y2="305.00" stroke="#000" stroke-width="1.05"/>
<line x1="252.30" y1="302.40" x2="257.90" y2="302.40" stroke="#000" stroke-width="1.05"/>
<text class="n" x="255.10" y="303.86" font-size="8.7" text-anchor="middle" font-weight="normal" font-style="normal" fill="#222">*</text>
<rect x="266.00" y="293.40" width="9.40" height="44.00" fill="#000"/>
<line x1="270.70" y1="282.40" x2="270.70" y2="293.40" stroke="#000" stroke-width="1.05"/>
<line x1="267.90" y1="282.40" x2="273.50" y2="282.40" stroke="#000" stroke-width="1.05"/>
<rect x="277.65" y="299.85" width="8.50" height="37.55" fill="#8f8f8f" stroke="#000" stroke-width="0.9"/>
<line x1="281.90" y1="288.40" x2="281.90" y2="299.40" stroke="#000" stroke-width="1.05"/>
<line x1="279.10" y1="288.40" x2="284.70" y2="288.40" stroke="#000" stroke-width="1.05"/>
<rect x="288.85" y="334.85" width="8.50" height="2.55" fill="#565656" stroke="#000" stroke-width="0.9"/>
<line x1="293.10" y1="334.00" x2="293.10" y2="334.40" stroke="#000" stroke-width="1.05"/>
<line x1="290.30" y1="334.00" x2="295.90" y2="334.00" stroke="#000" stroke-width="1.05"/>
<text class="n" x="293.10" y="335.46" font-size="8.7" text-anchor="middle" font-weight="normal" font-style="normal" fill="#222">**</text>
<rect x="304.00" y="254.00" width="9.40" height="5.50" fill="#000"/>
<rect x="304.00" y="268.00" width="9.40" height="69.40" fill="#000"/>
<line x1="308.70" y1="251.60" x2="308.70" y2="254.00" stroke="#000" stroke-width="1.05"/>
<line x1="305.90" y1="251.60" x2="311.50" y2="251.60" stroke="#000" stroke-width="1.05"/>
<rect x="315.20" y="242.60" width="9.40" height="16.90" fill="#8f8f8f"/>
<path d="M315.65 259.50V243.05H324.15V259.50" fill="none" stroke="#000" stroke-width="0.9"/>
<rect x="315.20" y="268.00" width="9.40" height="69.40" fill="#8f8f8f"/>
<path d="M315.65 337.40V268.00M324.15 268.00V337.40" fill="none" stroke="#000" stroke-width="0.9"/>
<line x1="319.90" y1="238.00" x2="319.90" y2="242.60" stroke="#000" stroke-width="1.05"/>
<line x1="317.10" y1="238.00" x2="322.70" y2="238.00" stroke="#000" stroke-width="1.05"/>
<text class="n" x="319.90" y="239.46" font-size="8.7" text-anchor="middle" font-weight="normal" font-style="normal" fill="#222">*</text>
<rect x="326.40" y="228.00" width="9.40" height="31.50" fill="#565656"/>
<path d="M326.85 259.50V228.45H335.35V259.50" fill="none" stroke="#000" stroke-width="0.9"/>
<rect x="326.40" y="268.00" width="9.40" height="69.40" fill="#565656"/>
<path d="M326.85 337.40V268.00M335.35 268.00V337.40" fill="none" stroke="#000" stroke-width="0.9"/>
<line x1="331.10" y1="222.00" x2="331.10" y2="228.00" stroke="#000" stroke-width="1.05"/>
<line x1="328.30" y1="222.00" x2="333.90" y2="222.00" stroke="#000" stroke-width="1.05"/>
<text class="n" x="331.10" y="224.86" font-size="8.7" text-anchor="middle" font-weight="normal" font-style="normal" fill="#222">**</text>
<line x1="219.58" y1="337.40" x2="345.00" y2="337.40" stroke="#000" stroke-width="1.85"/>
<line x1="244.00" y1="337.40" x2="244.00" y2="341.40" stroke="#000" stroke-width="1.85"/>
<line x1="282.00" y1="337.40" x2="282.00" y2="341.40" stroke="#000" stroke-width="1.85"/>
<line x1="320.00" y1="337.40" x2="320.00" y2="341.40" stroke="#000" stroke-width="1.85"/>
<text class="n" transform="translate(247.70 348.70) rotate(-45)" font-size="10.4" text-anchor="end" font-weight="normal" font-style="normal" fill="#000"><tspan font-style="normal">GA</tspan><tspan font-style="normal" font-size="7.28" dy="1.7">1</tspan></text>
<text class="n" transform="translate(285.70 348.70) rotate(-45)" font-size="10.4" text-anchor="end" font-weight="normal" font-style="normal" fill="#000"><tspan font-style="normal">GA</tspan><tspan font-style="normal" font-size="7.28" dy="1.7">4</tspan></text>
<text class="n" transform="translate(323.70 348.70) rotate(-45)" font-size="10.4" text-anchor="end" font-weight="normal" font-style="normal" fill="#000"><tspan font-style="normal">GA</tspan><tspan font-style="normal" font-size="7.28" dy="1.7">7</tspan></text>
<rect x="230.00" y="218.00" width="11.00" height="5.00" fill="#000"/>
<text class="n" transform="translate(247.60 223.80) scale(1.0 1.1)" font-size="8.3" text-anchor="start" font-weight="normal" font-style="normal" fill="#000">NPB</text>
<rect x="230.50" y="229.50" width="9.60" height="4.00" fill="#8f8f8f" stroke="#000" stroke-width="1.0"/>
<text class="n" transform="translate(247.60 235.00) scale(1.0 1.1)" font-size="8.3" text-anchor="start" font-weight="normal" font-style="normal" fill="#000">20-8</text>
<rect x="230.50" y="240.30" width="9.60" height="4.00" fill="#565656" stroke="#000" stroke-width="1.0"/>
<text class="n" transform="translate(247.60 245.80) scale(1.0 1.1)" font-size="8.3" text-anchor="start" font-weight="normal" font-style="normal" fill="#000">33-3</text>
<text transform="translate(355.30 205.90) scale(0.97 1.0)" font-size="12.9" text-anchor="start" font-weight="bold" font-style="normal" fill="#000" stroke="#000" stroke-width="0.3">G</text>
<text class="n" transform="translate(370.60 274.90) rotate(-90) scale(1.1 1.0)" font-size="9.05" text-anchor="middle" font-weight="normal" font-style="normal" fill="#000">Content (ng/g fresh weight)</text>
<line x1="393.50" y1="212.68" x2="393.50" y2="260.20" stroke="#000" stroke-width="1.85"/>
<line x1="393.50" y1="267.40" x2="393.50" y2="338.32" stroke="#000" stroke-width="1.85"/>
<line x1="390.20" y1="258.30" x2="396.30" y2="263.30" stroke="#000" stroke-width="1.4"/>
<line x1="390.20" y1="264.30" x2="396.60" y2="269.40" stroke="#000" stroke-width="1.4"/>
<line x1="389.50" y1="247.60" x2="393.50" y2="247.60" stroke="#000" stroke-width="1.85"/>
<text transform="translate(388.70 251.30) scale(1.0 1.15)" font-size="8.6" text-anchor="end" font-weight="bold" font-style="normal" fill="#000">4</text>
<line x1="389.50" y1="230.60" x2="393.50" y2="230.60" stroke="#000" stroke-width="1.85"/>
<text transform="translate(388.70 234.30) scale(1.0 1.15)" font-size="8.6" text-anchor="end" font-weight="bold" font-style="normal" fill="#000">6</text>
<line x1="389.50" y1="213.60" x2="393.50" y2="213.60" stroke="#000" stroke-width="1.85"/>
<text transform="translate(388.70 217.30) scale(1.0 1.15)" font-size="8.6" text-anchor="end" font-weight="bold" font-style="normal" fill="#000">8</text>
<line x1="389.50" y1="337.40" x2="393.50" y2="337.40" stroke="#000" stroke-width="1.85"/>
<text transform="translate(388.70 341.10) scale(1.0 1.15)" font-size="8.6" text-anchor="end" font-weight="bold" font-style="normal" fill="#000">0.0</text>
<line x1="389.50" y1="323.46" x2="393.50" y2="323.46" stroke="#000" stroke-width="1.85"/>
<text transform="translate(388.70 327.16) scale(1.0 1.15)" font-size="8.6" text-anchor="end" font-weight="bold" font-style="normal" fill="#000">0.2</text>
<line x1="389.50" y1="309.52" x2="393.50" y2="309.52" stroke="#000" stroke-width="1.85"/>
<text transform="translate(388.70 313.22) scale(1.0 1.15)" font-size="8.6" text-anchor="end" font-weight="bold" font-style="normal" fill="#000">0.4</text>
<line x1="389.50" y1="295.58" x2="393.50" y2="295.58" stroke="#000" stroke-width="1.85"/>
<text transform="translate(388.70 299.28) scale(1.0 1.15)" font-size="8.6" text-anchor="end" font-weight="bold" font-style="normal" fill="#000">0.6</text>
<line x1="389.50" y1="281.64" x2="393.50" y2="281.64" stroke="#000" stroke-width="1.85"/>
<text transform="translate(388.70 285.34) scale(1.0 1.15)" font-size="8.6" text-anchor="end" font-weight="bold" font-style="normal" fill="#000">0.8</text>
<text transform="translate(388.70 271.40) scale(1.0 1.15)" font-size="8.6" text-anchor="end" font-weight="bold" font-style="normal" fill="#000">1.0</text>
<rect x="404.00" y="299.00" width="13.30" height="38.40" fill="#000"/>
<line x1="410.65" y1="297.40" x2="410.65" y2="299.00" stroke="#000" stroke-width="1.05"/>
<line x1="407.05" y1="297.40" x2="414.25" y2="297.40" stroke="#000" stroke-width="1.05"/>
<rect x="419.75" y="321.85" width="12.40" height="15.55" fill="#8f8f8f" stroke="#000" stroke-width="0.9"/>
<line x1="425.95" y1="320.00" x2="425.95" y2="321.40" stroke="#000" stroke-width="1.05"/>
<line x1="422.35" y1="320.00" x2="429.55" y2="320.00" stroke="#000" stroke-width="1.05"/>
<text class="n" x="425.95" y="321.26" font-size="8.7" text-anchor="middle" font-weight="normal" font-style="normal" fill="#222">**</text>
<rect x="441.00" y="311.00" width="13.30" height="26.40" fill="#000"/>
<line x1="447.65" y1="310.00" x2="447.65" y2="311.00" stroke="#000" stroke-width="1.05"/>
<line x1="444.05" y1="310.00" x2="451.25" y2="310.00" stroke="#000" stroke-width="1.05"/>
<rect x="456.75" y="333.05" width="12.40" height="4.35" fill="#8f8f8f" stroke="#000" stroke-width="0.9"/>
<line x1="462.95" y1="332.00" x2="462.95" y2="332.60" stroke="#000" stroke-width="1.05"/>
<line x1="459.35" y1="332.00" x2="466.55" y2="332.00" stroke="#000" stroke-width="1.05"/>
<text class="n" x="462.95" y="333.46" font-size="8.7" text-anchor="middle" font-weight="normal" font-style="normal" fill="#222">**</text>
<rect x="478.00" y="254.40" width="13.30" height="5.10" fill="#000"/>
<rect x="478.00" y="268.00" width="13.30" height="69.40" fill="#000"/>
<line x1="484.65" y1="254.00" x2="484.65" y2="254.40" stroke="#000" stroke-width="1.05"/>
<line x1="481.05" y1="254.00" x2="488.25" y2="254.00" stroke="#000" stroke-width="1.05"/>
<rect x="493.30" y="250.00" width="13.30" height="9.50" fill="#8f8f8f"/>
<path d="M493.75 259.50V250.45H506.15V259.50" fill="none" stroke="#000" stroke-width="0.9"/>
<rect x="493.30" y="268.00" width="13.30" height="69.40" fill="#8f8f8f"/>
<path d="M493.75 337.40V268.00M506.15 268.00V337.40" fill="none" stroke="#000" stroke-width="0.9"/>
<line x1="499.95" y1="247.50" x2="499.95" y2="250.00" stroke="#000" stroke-width="1.05"/>
<line x1="496.35" y1="247.50" x2="503.55" y2="247.50" stroke="#000" stroke-width="1.05"/>
<text class="n" x="499.95" y="248.36" font-size="8.7" text-anchor="middle" font-weight="normal" font-style="normal" fill="#222">*</text>
<line x1="392.58" y1="337.40" x2="518.00" y2="337.40" stroke="#000" stroke-width="1.85"/>
<line x1="418.00" y1="337.40" x2="418.00" y2="341.40" stroke="#000" stroke-width="1.85"/>
<line x1="455.00" y1="337.40" x2="455.00" y2="341.40" stroke="#000" stroke-width="1.85"/>
<line x1="492.00" y1="337.40" x2="492.00" y2="341.40" stroke="#000" stroke-width="1.85"/>
<text class="n" transform="translate(421.70 348.70) rotate(-45)" font-size="10.4" text-anchor="end" font-weight="normal" font-style="normal" fill="#000"><tspan font-style="normal">GA</tspan><tspan font-style="normal" font-size="7.28" dy="1.7">1</tspan></text>
<text class="n" transform="translate(458.70 348.70) rotate(-45)" font-size="10.4" text-anchor="end" font-weight="normal" font-style="normal" fill="#000"><tspan font-style="normal">GA</tspan><tspan font-style="normal" font-size="7.28" dy="1.7">4</tspan></text>
<text class="n" transform="translate(495.70 348.70) rotate(-45)" font-size="10.4" text-anchor="end" font-weight="normal" font-style="normal" fill="#000"><tspan font-style="normal">GA</tspan><tspan font-style="normal" font-size="7.28" dy="1.7">7</tspan></text>
<rect x="403.00" y="218.00" width="11.00" height="5.50" fill="#000"/>
<text class="n" transform="translate(421.00 224.05) scale(1.0 1.1)" font-size="8.5" text-anchor="start" font-weight="normal" font-style="normal" fill="#000">ZH11</text>
<rect x="403.50" y="229.50" width="9.60" height="4.50" fill="#8f8f8f" stroke="#000" stroke-width="1.0"/>
<text class="n" transform="translate(421.00 235.25) scale(1.0 1.1)" font-size="8.5" text-anchor="start" font-weight="normal" font-style="italic" fill="#000">osnadp-me2</text>
</svg></body></html>
